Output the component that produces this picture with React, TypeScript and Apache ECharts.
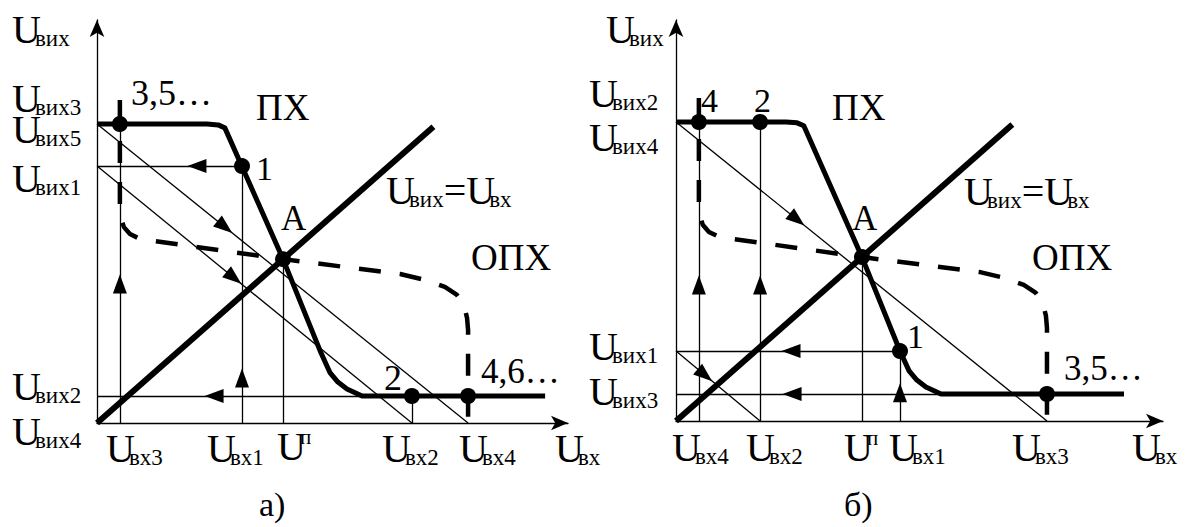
import React, { useEffect, useRef } from "react";
import * as echarts from "echarts";

const FONT = "Liberation Serif";

// Axis ranges of the two panels (arbitrary voltage units)
const xMax = [14, 14.48];
const yMax = [13.6, 13.53];

// ПХ — transfer characteristic of the inverter
const transferCurve = [
  [0, 10.09], [3.27, 10.09], [3.6, 10.06], [3.8, 9.96], [5.53, 5.53],
  [6.66, 2.36], [6.93, 1.69], [7.16, 1.38], [7.43, 1.15], [7.88, 0.91], [13.32, 0.91],
];
// ОПХ — inverse transfer characteristic
const inverseCurve = [
  [0.68, 10.9], [0.68, 7.26], [0.71, 6.92], [0.8, 6.61], [0.98, 6.38], [1.28, 6.21],
  [5.53, 5.53], [9.01, 5.03], [9.75, 4.83], [10.34, 4.59], [10.7, 4.32], [10.91, 3.98],
  [11.0, 3.54], [11.03, 3.14], [11.03, 0],
];
// Uвих = Uвх
const unityLine = [[0, 0], [10, 10]];

// Panel а
const pointsA = [[0.68, 10.09], [4.31, 8.67], [5.53, 5.53], [9.36, 0.91], [11.03, 0.91]];
const verticalsA = [[0.68, 10.09], [4.31, 8.67], [5.53, 5.53], [9.36, 0.91]]; // [x, top]
const horizontalsA = [[8.67, 4.31], [0.91, 9.36]]; // [y, right end]
const loadLinesA = [[10.09, 11.03], [8.67, 9.36]]; // [y-intercept, x-intercept]
const upArrowsA = [[0.68, 4.69], [4.31, 1.52]];
const leftArrowsA = [[2.97, 8.67], [3.48, 0.91]];
const loadArrowsA = [[0, 3.8], [1, 4.07]]; // [load line, x]

// Panel б
const pointsB = [[0.68, 10.09], [2.5, 10.09], [5.53, 5.53], [6.66, 2.36], [11.03, 0.91]];
const verticalsB = [[0.68, 10.09], [2.5, 10.09], [5.53, 5.53], [6.66, 2.36]];
const horizontalsB = [[2.36, 6.66], [0.91, 11.03]];
const loadLinesB = [[10.09, 11.03], [2.36, 2.5]];
const upArrowsB = [[0.68, 4.59], [2.5, 4.59], [6.66, 0.95]];
const leftArrowsB = [[3.42, 2.36], [3.45, 0.91]];
const loadArrowsB = [[0, 3.6], [1, 0.86]];

const grids = [
  { left: 97, top: 20, width: 471, height: 403 },
  { left: 676, top: 20, width: 487, height: 401 },
];

const panels = [
  { points: pointsA, verticals: verticalsA, horizontals: horizontalsA, loads: loadLinesA, up: upArrowsA, left: leftArrowsA, loadArrows: loadArrowsA },
  { points: pointsB, verticals: verticalsB, horizontals: horizontalsB, loads: loadLinesB, up: upArrowsB, left: leftArrowsB, loadArrows: loadArrowsB },
];

// Labels made of a large "U" and a small subscript: [subscript, left x, baseline y]
const uLabels: [string, number, number][] = [
  ["вих", 13, 43], ["вих3", 13, 112], ["вих5", 13, 143], ["вих1", 13, 192],
  ["вих2", 13, 400], ["вих4", 13, 445],
  ["вх3", 107, 462], ["вх1", 208, 462], ["вх2", 383, 462], ["вх4", 460, 462], ["вх", 556, 462],
  ["вих", 607, 43], ["вих2", 590, 107], ["вих4", 590, 151], ["вих1", 590, 360], ["вих3", 590, 405],
  ["вх4", 673, 461], ["вх2", 747, 461], ["вх1", 890, 461], ["вх3", 1013, 461], ["вх", 1133, 461],
];
// Threshold voltage labels: [left x, baseline y]
const thresholdLabels: [number, number][] = [[278, 460], [845, 461]];
// Plain labels: [text, left x, baseline y, font size]
const plainLabels: [string, number, number, number][] = [
  ["ПХ", 257, 120, 37], ["3,5…", 132, 105, 36], ["1", 257, 180, 34], ["A", 282, 230, 35],
  ["ОПХ", 472, 270, 37], ["2", 385, 390, 36], ["4,6…", 482, 383, 35], ["а)", 260, 516, 34],
  ["4", 702, 112, 34], ["2", 755, 112, 34], ["ПХ", 833, 120, 37], ["A", 853, 230, 35],
  ["ОПХ", 1033, 270, 37], ["1", 908, 348, 34], ["3,5…", 1065, 380, 35], ["б)", 845, 516, 34],
];
// Unity line captions: [left x, baseline y]
const unityLabels: [number, number][] = [[387, 204], [965, 205]];

const rich = {
  u: { fontFamily: FONT, fontSize: 40, width: 23, verticalAlign: "bottom", color: "#000" },
  s: { fontFamily: FONT, fontSize: 23, verticalAlign: "bottom", color: "#000" },
  e: { fontFamily: FONT, fontSize: 40, verticalAlign: "bottom", color: "#000" },
  p: { fontFamily: FONT, fontSize: 21, verticalAlign: "top", color: "#000" },
};

function textEl(text: string, x: number, baseline: number, size = 40) {
  return {
    type: "text",
    x,
    y: baseline + size * 0.1625,
    z: 100,
    silent: true,
    style: {
      text,
      rich,
      fontFamily: FONT,
      fontSize: size,
      fill: "#000",
      align: "left",
      verticalAlign: "bottom",
    },
  };
}

function buildOption() {
  const graphic: any[] = [];
  uLabels.forEach(([sub, x, b]) => graphic.push(textEl(`{u|U}{s|${sub}}`, x - 1, b)));
  thresholdLabels.forEach(([x, b]) => graphic.push(textEl(`{u|U}{p|п}`, x - 1, b)));
  plainLabels.forEach(([t, x, b, s]) => graphic.push(textEl(t, x - 1, b, s)));
  unityLabels.forEach(([x, b]) => graphic.push(textEl(`{u|U}{s|вих}{e|=}{u|U}{s|вх}`, x - 1, b)));

  const axisCommon = {
    type: "value",
    axisTick: { show: false },
    axisLabel: { show: false },
    splitLine: { show: false },
  };
  const axisLine = {
    show: true,
    onZero: false,
    symbol: ["none", "arrow"],
    symbolSize: [11, 17],
    lineStyle: { color: "#000", width: 1.3 },
  };
  const xAxis = grids.map((_, i) => ({ ...axisCommon, gridIndex: i, min: 0, max: xMax[i], axisLine }));
  const yAxis = grids.map((_, i) => ({ ...axisCommon, gridIndex: i, min: 0, max: yMax[i], axisLine }));

  const series: any[] = [];
  panels.forEach((p, i) => {
    const pxX = grids[i].width / xMax[i];
    const pxY = grids[i].height / yMax[i];
    const ax = { xAxisIndex: i, yAxisIndex: i };
    const segs: number[][][] = [];
    p.verticals.forEach(([x, top]) => segs.push([[x, 0], [x, top]]));
    p.horizontals.forEach(([y, right]) => segs.push([[0, y], [right, y]]));
    p.loads.forEach(([yi, xi]) => segs.push([[0, yi], [xi, 0]]));
    series.push({
      type: "lines",
      coordinateSystem: "cartesian2d",
      ...ax,
      z: 2,
      silent: true,
      symbol: "none",
      lineStyle: { color: "#000", width: 1.3, opacity: 1 },
      data: segs.map((c) => ({ coords: c })),
    });
    series.push({
      type: "line", ...ax, z: 3, silent: true, symbol: "none", clip: false,
      data: inverseCurve,
      lineStyle: { color: "#000", width: 4.5, type: [22, 19], cap: "butt" },
    });
    series.push({
      type: "line", ...ax, z: 3, silent: true, symbol: "none",
      data: unityLine,
      lineStyle: { color: "#000", width: 6, cap: "butt" },
    });
    series.push({
      type: "line", ...ax, z: 4, silent: true, symbol: "none",
      data: transferCurve,
      lineStyle: { color: "#000", width: 5, join: "round" },
    });
    const arrows: any[] = [];
    p.up.forEach(([x, y]) => arrows.push({ value: [x, y], symbolRotate: 0 }));
    p.left.forEach(([x, y]) => arrows.push({ value: [x, y], symbolRotate: 90 }));
    p.loadArrows.forEach(([li, x]) => {
      const [yi, xi] = p.loads[li];
      const ang = (Math.atan2(yi * pxY, xi * pxX) * 180) / Math.PI;
      arrows.push({ value: [x, yi * (1 - x / xi)], symbolRotate: -90 - ang });
    });
    series.push({
      type: "scatter", ...ax, z: 5, silent: true,
      symbol: "triangle", symbolSize: [14, 19],
      itemStyle: { color: "#000", opacity: 1 },
      data: arrows,
    });
    series.push({
      type: "scatter", ...ax, z: 6, silent: true,
      symbol: "circle", symbolSize: 16,
      itemStyle: { color: "#000", opacity: 1 },
      data: p.points,
    });
  });

  return {
    animation: false,
    backgroundColor: "#fff",
    grid: grids,
    xAxis,
    yAxis,
    series,
    graphic,
  };
}

export default function App() {
  const ref = useRef<HTMLDivElement>(null);
  useEffect(() => {
    const chart = echarts.init(ref.current!, null, { renderer: "svg" });
    chart.setOption(buildOption() as any);
    return () => chart.dispose();
  }, []);
  return (
    <div
      ref={ref}
      style={{ position: "fixed", left: 0, top: 0, width: 1186, height: 527, background: "#fff" }}
    />
  );
}
